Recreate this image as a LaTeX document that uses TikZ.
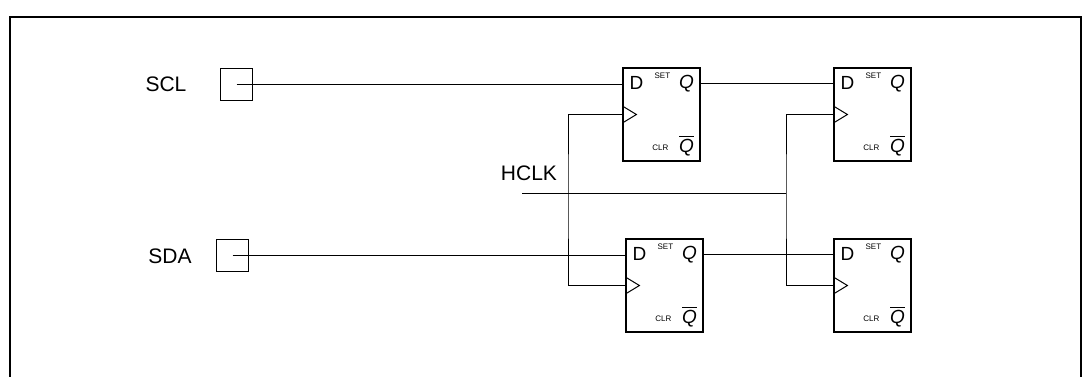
\documentclass[tikz,border=0pt]{standalone}
\usepackage{fontspec}
\setmainfont{Liberation Sans}

\tikzset{
    ff/.style={draw,line width=0.6pt,minimum width=38.5pt,minimum height=46.5pt,inner sep=0pt},
    pad/.style={draw,line width=0.5pt,minimum width=16pt,minimum height=16pt,inner sep=0pt},
    wire/.style={line width=0.5pt},
    lbl/.style={font=\fontsize{10.5}{12}\selectfont},
    pinbig/.style={inner sep=0pt,font=\fontsize{9.5}{11}\selectfont},
    pinsmall/.style={inner sep=0pt,font=\fontsize{4}{5}\selectfont}
}

% pin texts and clock mark of one flip-flop
\newcommand\ffpins[1]{%
    \node[pinbig] (#1d) at ([xshift=7pt,yshift=-8pt]#1.north west) {D};
    \node[pinsmall] (#1set) at ([xshift=20pt,yshift=-4pt]#1.north west) {SET};
    \node[pinbig] (#1q) at ([xshift=32pt,yshift=-8pt]#1.north west) {\textit{Q}};
    \node[pinsmall] (#1clr) at ([xshift=19pt,yshift=-40pt]#1.north west) {CLR};
    \node[pinbig] (#1qn) at ([xshift=32pt,yshift=-39pt]#1.north west) {$\overline{\mbox{\textit{Q}}}$};
    \draw[wire] ([yshift=4.25pt]#1.west) -- ([xshift=7pt]#1.west) -- ([yshift=-4.25pt]#1.west);
}

\begin{document}
\begin{tikzpicture}[x=0.5pt,y=-0.5pt]
    \useasboundingbox (0,0) rectangle (1084,376);
    \draw[line width=1pt] (10,390) -- (10,17) -- (1081,17) -- (1081,390);

    % inputs
    \node[lbl] (scllbl) at (166,84) {SCL};
    \node[pad] (scl) at (236.5,84) {};
    \node[lbl] (sdalbl) at (170,256) {SDA};
    \node[pad] (sda) at (232.5,255) {};
    \node[lbl] (hclklbl) at (529,173) {HCLK};
    \coordinate (hclk) at (522,193);
    \coordinate (ja) at (568,193);
    \coordinate (jb) at (786,193);

    % flip-flops
    \node[ff] (ffa) at (661.5,114.5) {};
    \node[ff] (ffb) at (872.5,114.5) {};
    \node[ff] (ffc) at (664.5,285.5) {};
    \node[ff] (ffd) at (872.5,285.5) {};
    \ffpins{ffa}
    \ffpins{ffb}
    \ffpins{ffc}
    \ffpins{ffd}

    % data
    \draw[wire] (scl.center) -- (scl.center -| ffa.west);
    \draw[wire] ([yshift=-8pt]ffa.north east) -- ([yshift=-8pt]ffb.north west);
    \draw[wire] (sda.center) -- (sda.center -| ffc.west);
    \draw[wire] ([yshift=-8pt]ffc.north east) -- ([yshift=-8pt]ffd.north west);

    % clock
    \draw[wire] (hclk) -- (jb);
    \draw[wire] (ffa.west) -| (ja) |- (ffc.west);
    \draw[wire] (ffb.west) -| (jb) |- (ffd.west);
\end{tikzpicture}
\end{document}
